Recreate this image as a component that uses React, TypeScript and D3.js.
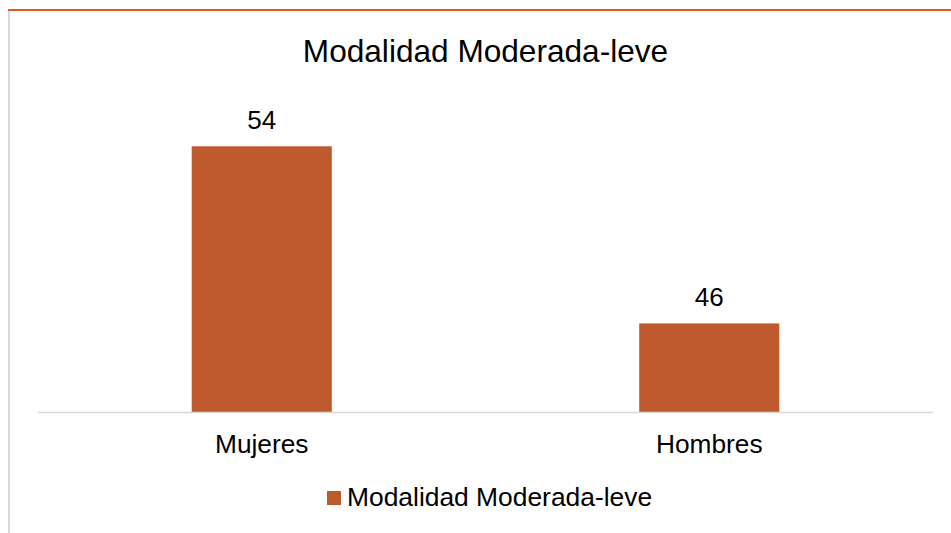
import React, { useEffect, useRef } from 'react';
import * as d3 from 'd3';

const categories = ['Mujeres', 'Hombres'];
const values = [54, 46];
const seriesName = 'Modalidad Moderada-leve';
const chartTitle = 'Modalidad Moderada-leve';

const App = () => {
  const svgRef = useRef<SVGSVGElement>(null);

  useEffect(() => {
    const svg = d3.select(svgRef.current);
    svg.selectAll('*').remove();

    const width = 951;
    const height = 533;
    const font = 'Liberation Sans, Arial, sans-serif';
    const barColor = '#be5a2e';
    const plot = { left: 38, right: 933, top: 102, bottom: 412 };

    // frame edges seen at top and left
    svg.append('line')
      .attr('x1', 8).attr('x2', width)
      .attr('y1', 10).attr('y2', 10)
      .attr('stroke', '#dc5b28')
      .attr('stroke-width', 2);
    svg.append('line')
      .attr('x1', 9).attr('x2', 9)
      .attr('y1', 11).attr('y2', height)
      .attr('stroke', '#d9d9d9')
      .attr('stroke-width', 2);

    const x = d3.scaleBand()
      .domain(categories)
      .range([plot.left, plot.right])
      .paddingInner(0.687)
      .paddingOuter(0.3435);

    const y = d3.scaleLinear()
      .domain([42, 56])
      .range([plot.bottom, plot.top]);

    svg.append('text')
      .attr('x', (plot.left + plot.right) / 2)
      .attr('y', 62)
      .attr('text-anchor', 'middle')
      .attr('font-family', font)
      .attr('font-size', 31.6)
      .attr('fill', '#000')
      .text(chartTitle);

    svg.selectAll('rect.bar')
      .data(values)
      .join('rect')
      .attr('class', 'bar')
      .attr('x', (d, i) => x(categories[i]))
      .attr('y', d => y(d))
      .attr('width', x.bandwidth())
      .attr('height', d => y(42) - y(d))
      .attr('fill', barColor);

    svg.append('line')
      .attr('x1', plot.left).attr('x2', plot.right)
      .attr('y1', plot.bottom + 0.5).attr('y2', plot.bottom + 0.5)
      .attr('stroke', '#d9d9d9')
      .attr('stroke-width', 1.5);

    svg.selectAll('text.value')
      .data(values)
      .join('text')
      .attr('class', 'value')
      .attr('x', (d, i) => x(categories[i]) + x.bandwidth() / 2)
      .attr('y', d => y(d) - 17)
      .attr('text-anchor', 'middle')
      .attr('font-family', font)
      .attr('font-size', 26)
      .attr('fill', '#000')
      .text(d => d);

    const xAxis = d3.axisBottom(x).tickSize(0).tickPadding(0);
    const gx = svg.append('g')
      .attr('transform', `translate(0,${plot.bottom})`)
      .call(xAxis);
    gx.select('.domain').remove();
    gx.selectAll('text')
      .attr('dy', null)
      .attr('y', 41)
      .attr('font-family', font)
      .attr('font-size', 26.3)
      .attr('fill', '#000');

    const legend = svg.append('g').attr('transform', 'translate(327,491)');
    legend.append('rect')
      .attr('width', 14)
      .attr('height', 14)
      .attr('fill', barColor);
    legend.append('text')
      .attr('x', 20)
      .attr('y', 15)
      .attr('font-family', font)
      .attr('font-size', 26.4)
      .attr('fill', '#000')
      .text(seriesName);
  }, []);

  return (
    <svg
      ref={svgRef}
      width={951}
      height={533}
      style={{ position: 'absolute', left: 0, top: 0, background: '#fff' }}
    ></svg>
  );
};

export default App;
